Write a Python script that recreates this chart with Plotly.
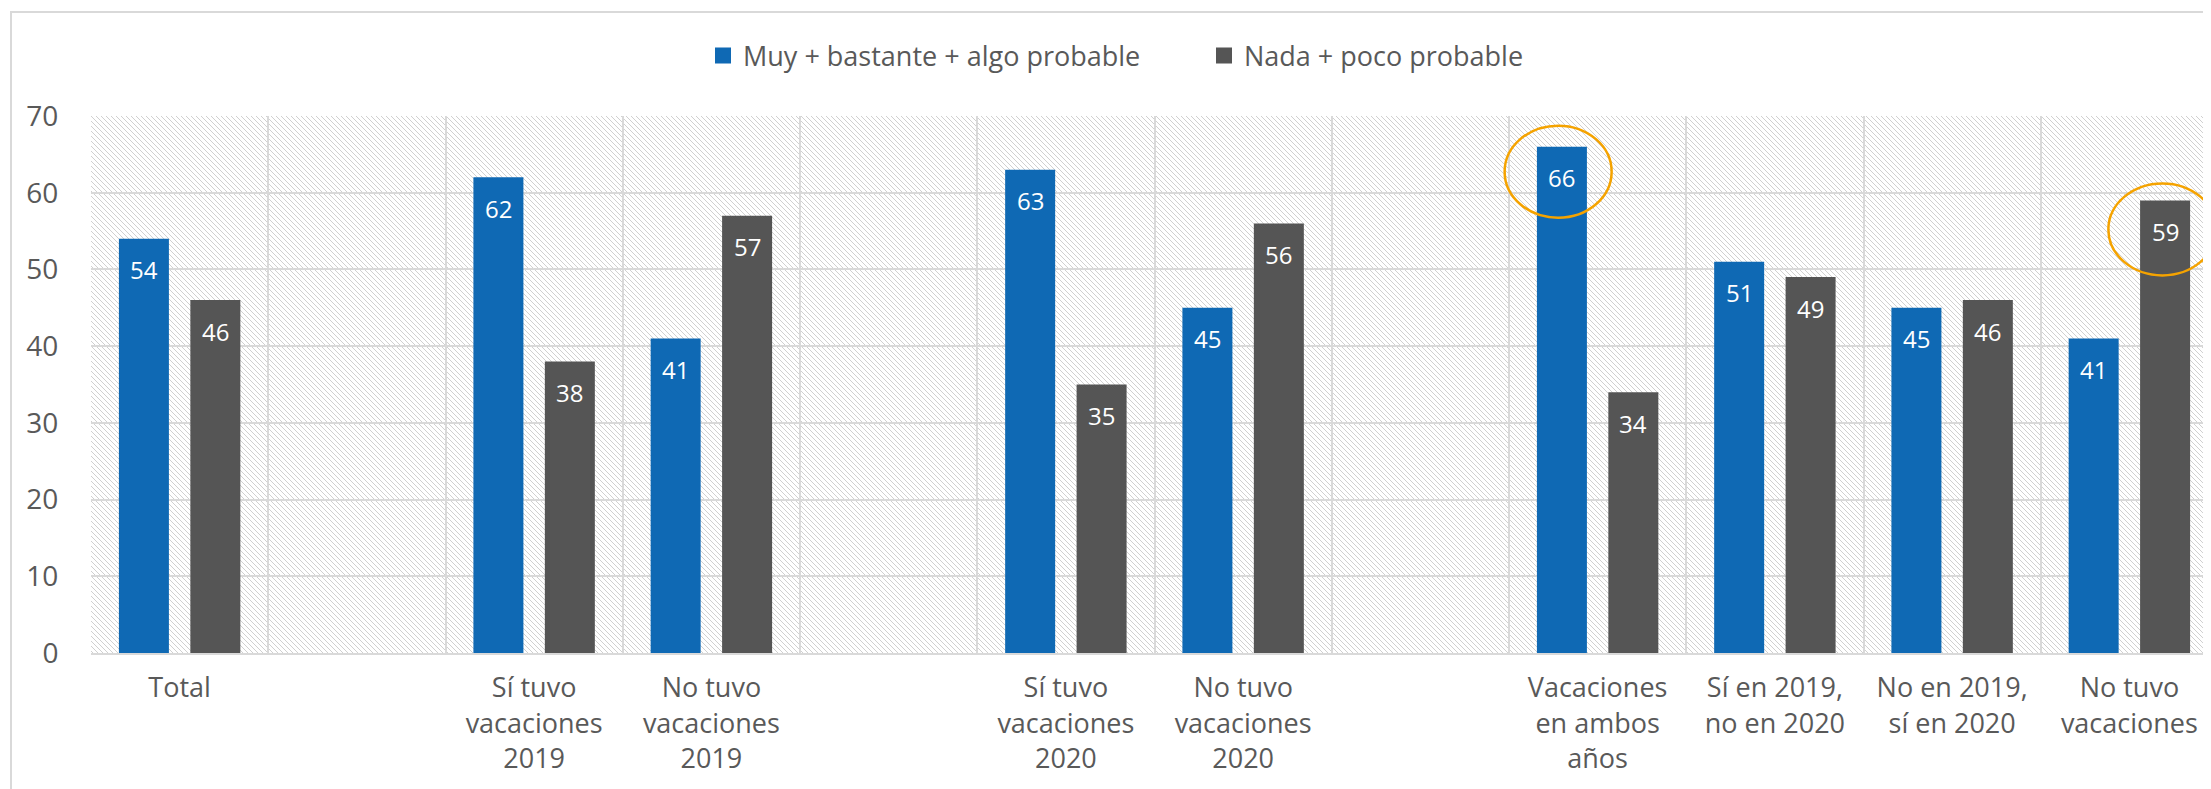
import base64

import plotly.graph_objects as go

categories = [
    "Total",
    " ",
    "Sí tuvo<br>vacaciones<br>2019",
    "No tuvo<br>vacaciones<br>2019",
    "  ",
    "Sí tuvo<br>vacaciones<br>2020",
    "No tuvo<br>vacaciones<br>2020",
    "   ",
    "Vacaciones<br>en ambos<br>años",
    "Sí en 2019,<br>no en 2020",
    "No en 2019,<br>sí en 2020",
    "No tuvo<br>vacaciones",
]
probable = [54, None, 62, 41, None, 63, 45, None, 66, 51, 45, 41]
no_probable = [46, None, 38, 57, None, 35, 56, None, 34, 49, 46, 59]

series_names = ["Muy + bastante + algo probable", "Nada + poco probable"]
series_colors = ["#0F69B4", "#555555"]
y_ticks = [0, 10, 20, 30, 40, 50, 60, 70]

W, H = 2211, 789
M = dict(l=83, r=1, t=108, b=144)
BARGAP, BARGROUPGAP = 0.194, 0.3
FONT = "Open Sans"
TXT = "#595959"
GRID = "#D9D9D9"

plot_w = W - M["l"] - M["r"]
plot_h = H - M["t"] - M["b"]
cat_w = plot_w / len(categories)
# horizontal offset of each bar centre from its category centre
bar_shift = cat_w * (1 - BARGAP) / 4


def hatch_image(w, h):
    svg = (
        f"<svg xmlns='http://www.w3.org/2000/svg' width='{w}' height='{h}'>"
        "<defs><pattern id='h' patternUnits='userSpaceOnUse' width='5' height='5'>"
        "<path d='M-1,-1 L6,6 M-1,4 L1,6 M4,-1 L6,1' stroke='#d0d0d0' "
        "stroke-width='1'/></pattern></defs>"
        f"<rect width='{w}' height='{h}' fill='white'/>"
        "<rect width='100%' height='100%' fill='url(#h)'/></svg>"
    )
    return "data:image/svg+xml;base64," + base64.b64encode(svg.encode()).decode()


fig = go.Figure()
for name, vals, color in zip(series_names, [probable, no_probable], series_colors):
    fig.add_trace(
        go.Bar(
            x=categories,
            y=vals,
            name=name,
            marker=dict(color=color, line_width=0),
            showlegend=False,
            hoverinfo="x+y",
        )
    )
    # dummy trace for a bigger legend square
    fig.add_trace(
        go.Scatter(
            x=[None],
            y=[None],
            mode="markers",
            marker=dict(symbol="square", size=18, color=color),
            name=name,
        )
    )

# value labels inside the top of each bar
annotations = []
for vals, sign in [(probable, -1), (no_probable, 1)]:
    for cat, v in zip(categories, vals):
        if v is None:
            continue
        annotations.append(
            dict(
                x=cat,
                y=v,
                text=str(v),
                showarrow=False,
                xshift=sign * bar_shift,
                yshift=-31,
                yanchor="middle",
                font=dict(family=FONT, size=24, color="white"),
            )
        )

highlight = dict(
    type="circle",
    xsizemode="pixel",
    ysizemode="pixel",
    xref="x",
    yref="y",
    line=dict(color="#F5A300", width=2.5),
    layer="above",
)
shapes = [
    dict(highlight, xanchor=categories[8], yanchor=probable[8], x0=-93, x1=14, y0=-71, y1=21),
    dict(highlight, xanchor=categories[11], yanchor=no_probable[11], x0=-21, x1=87, y0=-75, y1=17),
    # outer chart frame
    dict(
        type="rect",
        xref="paper",
        yref="paper",
        x0=(3 - M["l"]) / plot_w,
        x1=(2209 - M["l"]) / plot_w,
        y0=-(M["b"] - 2) / plot_h,
        y1=1 + (M["t"] - 4) / plot_h,
        line=dict(color=GRID, width=2),
        layer="below",
    ),
]

fig.update_layout(
    width=W,
    height=H,
    margin=M,
    paper_bgcolor="white",
    plot_bgcolor="white",
    barmode="group",
    bargap=BARGAP,
    bargroupgap=BARGROUPGAP,
    font=dict(family=FONT, size=27, color=TXT),
    legend=dict(
        orientation="h",
        xref="container",
        yref="container",
        x=695 / W,
        xanchor="left",
        y=1 - 48 / H,
        yanchor="middle",
        font=dict(family=FONT, size=27, color=TXT),
        itemwidth=30,
        entrywidth=456,
    ),
    annotations=annotations,
    shapes=shapes,
    images=[
        dict(
            source=hatch_image(plot_w, plot_h),
            xref="paper",
            yref="paper",
            x=0,
            y=1,
            sizex=1,
            sizey=1,
            sizing="stretch",
            xanchor="left",
            yanchor="top",
            layer="below",
        )
    ],
)
fig.update_xaxes(
    type="category",
    categoryorder="array",
    categoryarray=categories,
    tickson="boundaries",
    showgrid=True,
    gridcolor=GRID,
    gridwidth=2,
    showline=True,
    linecolor=GRID,
    linewidth=2,
    ticks="",
    ticklabelstandoff=10,
    tickfont=dict(family=FONT, size=27, color=TXT),
    range=[-0.5, len(categories) - 0.5],
)
fig.update_yaxes(
    range=[0, 70],
    tickvals=y_ticks,
    showgrid=True,
    gridcolor=GRID,
    gridwidth=2,
    zeroline=False,
    ticks="outside",
    ticklen=26,
    tickcolor="rgba(0,0,0,0)",
    tickfont=dict(family=FONT, size=28, color=TXT),
)

fig.write_html("out.html")
